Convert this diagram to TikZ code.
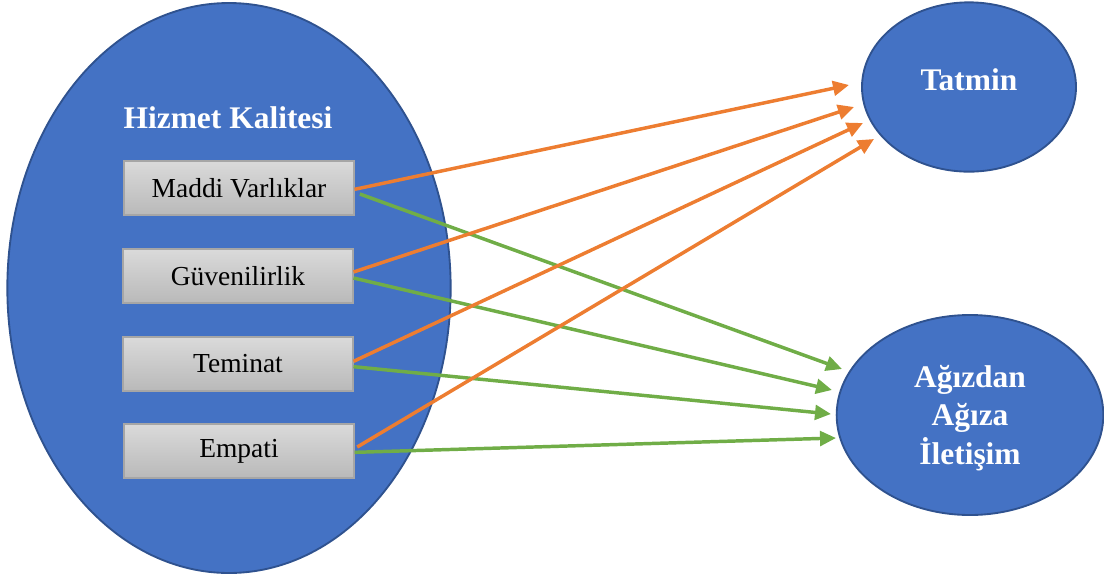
\documentclass[tikz,border=0pt]{standalone}
\usepackage{fontspec}
\setmainfont{Liberation Serif}
\usetikzlibrary{arrows.meta,shapes.geometric}
\definecolor{fillblue}{HTML}{4472C4}
\definecolor{edgeblue}{HTML}{2F528F}
\definecolor{arrorange}{HTML}{ED7D31}
\definecolor{arrgreen}{HTML}{70AD47}
\definecolor{boxtop}{HTML}{DADADA}
\definecolor{boxbot}{HTML}{B9B9B9}
\definecolor{boxedge}{HTML}{A6A6A6}
\begin{document}
\begin{tikzpicture}[x=0.75pt,y=-0.75pt,
  bubble/.style={ellipse, draw=edgeblue, line width=1.4pt, fill=fillblue, inner sep=0pt},
  title/.style={text=white, font=\fontsize{23.6}{28.8}\selectfont\bfseries, align=center},
  dimbox/.style={draw=boxedge, line width=0.8pt, top color=boxtop, bottom color=boxbot,
    minimum width=172.5pt, minimum height=40.5pt, inner sep=0pt,
    font=\fontsize{20.6}{24}\selectfont},
  link/.style={line width=2.6pt, -{Triangle[length=12pt,width=11pt]}},
  toSat/.style={link, draw=arrorange, fill=arrorange},
  toWom/.style={link, draw=arrgreen, fill=arrgreen}]
\useasboundingbox (0,0) rectangle (1104,576);

% outer construct and its dimensions
\node[bubble, minimum width=332.5pt, minimum height=427.5pt] (hk) at (229,288) {};
\node[title] (hkt) at (228,118) {Hizmet Kalitesi};
\node[dimbox] (mv) at (239,188) {Maddi Varlıklar};
\node[dimbox] (gv) at (238,276) {Güvenilirlik};
\node[dimbox] (tm) at (238,364) {Teminat};
\node[dimbox] (em) at (239,451) {Empati};

% outcome constructs
\node[bubble, minimum width=160.5pt, minimum height=127pt] (sat) at (969,87) {};
\node[title] (satt) at (969,80) {Tatmin};
\node[bubble, minimum width=200pt, minimum height=150pt] (wom) at (970,415) {};
\node[title] (womt) at (970,418) {Ağızdan\\Ağıza\\İletişim};

% arrow tips
\coordinate (s1) at (849,85);
\coordinate (s2) at (854,107);
\coordinate (s3) at (863,123);
\coordinate (s4) at (874,139);
\coordinate (w1) at (842,369);
\coordinate (w2) at (832,390);
\coordinate (w3) at (831,414);
\coordinate (w4) at (836,438);

% paths to word of mouth
\draw[toWom] ([xshift=4pt,yshift=-4.5pt]mv.east) -- (w1);
\draw[toWom] ([yshift=-1.5pt]gv.east) -- (w2);
\draw[toWom] ([yshift=-2pt]tm.east) -- (w3);
\draw[toWom] ([yshift=-1pt]em.east) -- (w4);

% paths to satisfaction
\draw[toSat] ([yshift=-1pt]mv.east) -- (s1);
\draw[toSat] ([yshift=3pt]gv.east) -- (s2);
\draw[toSat] ([yshift=2pt]tm.east) -- (s3);
\draw[toSat] ([xshift=2pt,yshift=3pt]em.east) -- (s4);
\end{tikzpicture}
\end{document}
